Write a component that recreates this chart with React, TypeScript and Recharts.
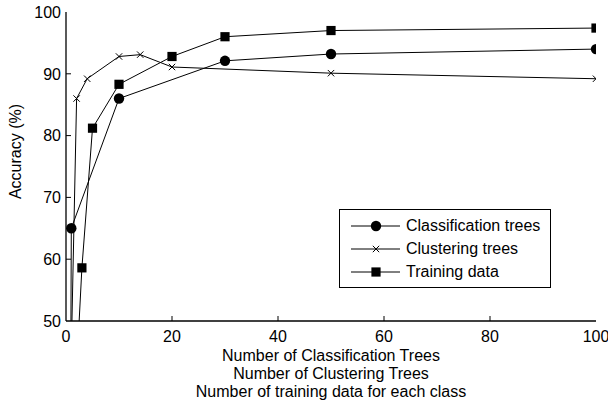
import React from 'react'
import { LineChart, Line, XAxis, YAxis, Legend, Label } from 'recharts'

// values
const classX = [0.8, 1, 10, 30, 50, 100]
const classY = [20, 65, 86, 92.1, 93.2, 94]

const clustX = [1, 2, 4, 10, 14, 20, 50, 100]
const clustY = [45, 86, 89.2, 92.8, 93.1, 91.1, 90.1, 89.2]

const trainX = [2, 3, 5, 10, 20, 30, 50, 100]
const trainY = [42, 58.6, 81.2, 88.3, 92.8, 96, 97, 97.4]

const xTicks = [0, 20, 40, 60, 80, 100]
const yTicks = [50, 60, 70, 80, 90, 100]

const seriesNames = ['Classification trees', 'Clustering trees', 'Training data']
const xLabelLines = [
    'Number of Classification Trees',
    'Number of Clustering Trees',
    'Number of training data for each class',
]
const yLabel = 'Accuracy (%)'

const FONT = '"Liberation Sans", Arial, Helvetica, sans-serif'

const toPoints = (xs: number[], ys: number[]) => xs.map((x, i) => ({ x, y: ys[i] }))

const classData = toPoints(classX, classY)
const clustData = toPoints(clustX, clustY)
const trainData = toPoints(trainX, trainY)

// markers
const CircleMark = ({ cx, cy }: any) => <circle cx={cx} cy={cy} r={5.2} fill="#000" />
const SquareMark = ({ cx, cy }: any) => <rect x={cx - 4.6} y={cy - 4.6} width={9.2} height={9.2} fill="#000" />
const CrossMark = ({ cx, cy }: any) => (
    <path d={`M${cx - 3.2},${cy - 3.2}L${cx + 3.2},${cy + 3.2}M${cx - 3.2},${cy + 3.2}L${cx + 3.2},${cy - 3.2}`} stroke="#000" strokeWidth={1} />
)

const makeDot = (Mark: any) => (props: any) => {
    const { cx, cy, index, payload } = props
    if (payload.y < 50 || cx == null || cy == null) return <g key={index} />
    return <g key={index}><Mark cx={cx} cy={cy} /></g>
}

const BottomTick = ({ x, y, payload }: any) => (
    <g>
        {payload.value > 0 && payload.value < 100 && <line x1={x} y1={y} x2={x} y2={y - 5} stroke="#000" />}
        <text x={x} y={y + 21} textAnchor="middle" fontSize={16} fontFamily={FONT} fill="#000">{payload.value}</text>
    </g>
)
const TopTick = ({ x, y, payload }: any) =>
    payload.value > 0 && payload.value < 100 ? <line x1={x} y1={y} x2={x} y2={y + 5} stroke="#000" /> : <g />
const LeftTick = ({ x, y, payload }: any) => (
    <g>
        {payload.value > 50 && payload.value < 100 && <line x1={x} y1={y} x2={x + 5} y2={y} stroke="#000" />}
        <text x={x - 5} y={y} dy="0.36em" textAnchor="end" fontSize={16} fontFamily={FONT} fill="#000">{payload.value}</text>
    </g>
)
const RightTick = ({ x, y, payload }: any) =>
    payload.value > 50 && payload.value < 100 ? <line x1={x} y1={y} x2={x - 5} y2={y} stroke="#000" /> : <g />

const LegendBox = () => {
    const marks = [CircleMark, CrossMark, SquareMark]
    return (
        <div style={{ border: '1px solid #000', background: '#fff', width: 210, padding: '4px 0', fontFamily: FONT, fontSize: 16, color: '#000' }}>
            {seriesNames.map((name, i) => {
                const Mark = marks[i]
                return (
                    <div key={name} style={{ display: 'flex', alignItems: 'center', height: 23 }}>
                        <svg width={66} height={14} style={{ flex: 'none' }}>
                            <line x1={11} y1={7} x2={60} y2={7} stroke="#000" />
                            <Mark cx={36} cy={7} />
                        </svg>
                        <span style={{ lineHeight: '23px' }}>{name}</span>
                    </div>
                )
            })}
        </div>
    )
}

export default function App() {
    return (
        <div style={{ position: 'absolute', left: 0, top: 0, width: 608, height: 407, background: '#fff' }}>
            <LineChart width={608} height={407} margin={{ top: 12, right: 12, bottom: 0, left: 0 }}>
                <XAxis
                    dataKey="x"
                    type="number"
                    domain={[0, 100]}
                    ticks={xTicks}
                    height={86}
                    tickSize={0}
                    tickMargin={0}
                    tickLine={false}
                    tick={<BottomTick />}
                    axisLine={{ stroke: '#000', strokeWidth: 1.3 }}
                    allowDataOverflow
                >
                    <Label
                        content={({ viewBox }: any) => {
                            const cx = viewBox.x + viewBox.width / 2
                            return (
                                <text textAnchor="middle" fontSize={16} fontFamily={FONT} fill="#000">
                                    {xLabelLines.map((t, i) => (
                                        <tspan key={t} x={cx} y={viewBox.y + 40 + i * 18}>{t}</tspan>
                                    ))}
                                </text>
                            )
                        }}
                    />
                </XAxis>
                <XAxis
                    xAxisId="top"
                    orientation="top"
                    dataKey="x"
                    type="number"
                    domain={[0, 100]}
                    ticks={xTicks}
                    height={0}
                    tickSize={0}
                    tickMargin={0}
                    tickLine={false}
                    tick={<TopTick />}
                    axisLine={{ stroke: '#000', strokeWidth: 1.3 }}
                />
                <YAxis
                    type="number"
                    domain={[50, 100]}
                    ticks={yTicks}
                    width={66}
                    tickSize={0}
                    tickMargin={0}
                    tickLine={false}
                    tick={<LeftTick />}
                    axisLine={{ stroke: '#000', strokeWidth: 1.3 }}
                    allowDataOverflow
                >
                    <Label
                        content={({ viewBox }: any) => {
                            const cy = viewBox.y + viewBox.height / 2 - 15
                            return (
                                <text x={15} y={cy} transform={`rotate(-90 15 ${cy})`} dy="0.36em" textAnchor="middle" fontSize={16} fontFamily={FONT} fill="#000">
                                    {yLabel}
                                </text>
                            )
                        }}
                    />
                </YAxis>
                <YAxis
                    yAxisId="right"
                    orientation="right"
                    type="number"
                    domain={[50, 100]}
                    ticks={yTicks}
                    width={0}
                    tickSize={0}
                    tickMargin={0}
                    tickLine={false}
                    tick={<RightTick />}
                    axisLine={{ stroke: '#000', strokeWidth: 1.3 }}
                />
                <Legend
                    layout="vertical"
                    align="center"
                    verticalAlign="middle"
                    content={<LegendBox />}
                    wrapperStyle={{ left: 339, top: 209, width: 212 }}
                />
                <Line
                    data={classData}
                    dataKey="y"
                    name={seriesNames[0]}
                    stroke="#000"
                    strokeWidth={1}
                    dot={makeDot(CircleMark)}
                    activeDot={false}
                    isAnimationActive={false}
                />
                <Line
                    data={clustData}
                    dataKey="y"
                    name={seriesNames[1]}
                    stroke="#000"
                    strokeWidth={1}
                    dot={makeDot(CrossMark)}
                    activeDot={false}
                    isAnimationActive={false}
                />
                <Line
                    data={trainData}
                    dataKey="y"
                    name={seriesNames[2]}
                    stroke="#000"
                    strokeWidth={1}
                    dot={makeDot(SquareMark)}
                    activeDot={false}
                    isAnimationActive={false}
                />
            </LineChart>
        </div>
    )
}
